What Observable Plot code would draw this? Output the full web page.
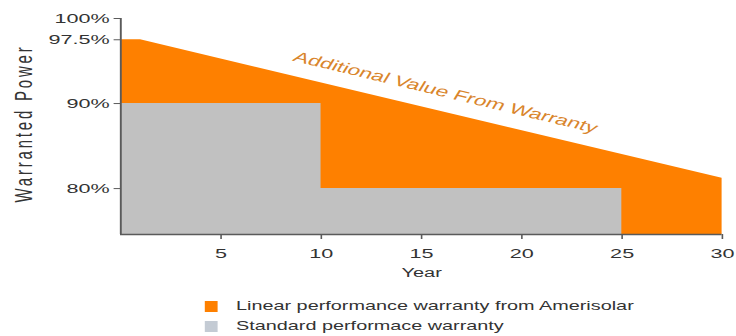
<!DOCTYPE html>
<html>
<head>
<meta charset="utf-8">
<script src="https://cdn.jsdelivr.net/npm/d3@7"></script>
<script src="https://cdn.jsdelivr.net/npm/@observablehq/plot@0.6"></script>
<style>
  html, body { margin: 0; padding: 0; background: #fff; }
  body { width: 736px; height: 336px; overflow: hidden; }
  #wrap {
    position: relative;
    width: 460px;
    height: 336px;
    transform: scaleX(1.6);
    transform-origin: 0 0;
    font-family: "Liberation Sans", Arial, sans-serif;
  }
  #legend { position: absolute; left: 128px; top: 296px; }
  .row { display: flex; align-items: center; height: 20px; }
  .sw { width: 8px; height: 11px; margin-right: 11.5px; }
  .lbl { font-size: 12.4px; color: #333; white-space: nowrap; }
</style>
</head>
<body>
<div id="wrap">
  <div id="chart"></div>
  <div id="legend"></div>
</div>
<script>
// Linear performance warranty (percent of rated power by year)
const linearYears = [0, 1, 30];
const linearPower = [97.5, 97.5, 81.2];

// Standard stepped warranty
const stdYears = [0, 10, 25];
const stdPower = [90, 80, 80];

// Axes
const yTicks = [80, 90, 97.5, 100];
const yTickLabels = ["80%", "90%", "97.5%", "100%"];
const xTicks = [5, 10, 15, 20, 25, 30];
const yFloor = 74.6;

// Series names and colours
const seriesNames = ["Linear performance warranty from Amerisolar", "Standard performace warranty"];
const seriesColors = ["#fe8000", "#c1c1c1"];
const swatchColors = ["#fe8000", "#c4cbd4"];

const annotationText = "Additional Value From Warranty";
const annotationYear = 16.2;

const linear = linearYears.map((year, i) => ({year, power: linearPower[i]}));
const standard = stdYears.map((year, i) => ({year, power: stdPower[i]}));

// value of the linear warranty at a given year (used to place the annotation along its edge)
function linearAt(t) {
  for (let i = 1; i < linear.length; i++) {
    const a = linear[i - 1], b = linear[i];
    if (t <= b.year) return a.power + (b.power - a.power) * (t - a.year) / (b.year - a.year);
  }
  return linear[linear.length - 1].power;
}
const annotation = [{year: annotationYear, power: linearAt(annotationYear), label: annotationText}];

const chart = Plot.plot({
  width: 460,
  height: 290,
  marginLeft: 75,
  marginRight: 9,
  marginTop: 18,
  marginBottom: 56,
  style: {fontFamily: "Liberation Sans, Arial, sans-serif", fontSize: "13px", color: "#333", background: "transparent"},
  x: {domain: [0, 30]},
  y: {domain: [yFloor, 100]},
  marks: [
    Plot.areaY(linear, {x: "year", y1: yFloor, y2: "power", fill: seriesColors[0]}),
    Plot.areaY(standard, {x: "year", y1: yFloor, y2: "power", curve: "step-after", fill: seriesColors[1]}),
    Plot.ruleX([0], {y1: yFloor, y2: 100, stroke: "#5a5a5a", strokeWidth: 1.2}),
    Plot.ruleY([yFloor], {stroke: "#5a5a5a", strokeWidth: 1.5}),
    Plot.axisY({ticks: yTicks, tickFormat: d => yTickLabels[yTicks.indexOf(d)], tickSize: 4, tickPadding: 3, label: null, stroke: "#5a5a5a", fontSize: 13.5}),
    Plot.axisX({ticks: xTicks, tickSize: 5, tickPadding: 9, label: null, stroke: "#5a5a5a", fontSize: 13.5}),
    Plot.text(["Year"], {text: d => d, frameAnchor: "bottom", lineAnchor: "middle", dy: 38, fontSize: 12.5, fill: "#333"}),
    Plot.text(["Warranted Power"], {text: d => d, frameAnchor: "left", textAnchor: "middle", lineAnchor: "middle", dx: -60, dy: -3, rotate: -90, fontSize: 15, fill: "#333"}),
    Plot.text(annotation, {x: "year", y: "power", text: "label", rotate: 21, dy: -20, fontSize: 14.4, fill: "#d9852c"})
  ]
});
d3.select(chart).selectAll("text").filter(function () { return this.textContent === "Warranted Power"; })
  .style("letter-spacing", "2.8px");
document.getElementById("chart").appendChild(chart);

const legend = d3.select("#legend");
seriesNames.forEach((name, i) => {
  const row = legend.append("div").attr("class", "row");
  row.append("div").attr("class", "sw").style("background", swatchColors[i]);
  row.append("div").attr("class", "lbl").text(name);
});
</script>
</body>
</html>
